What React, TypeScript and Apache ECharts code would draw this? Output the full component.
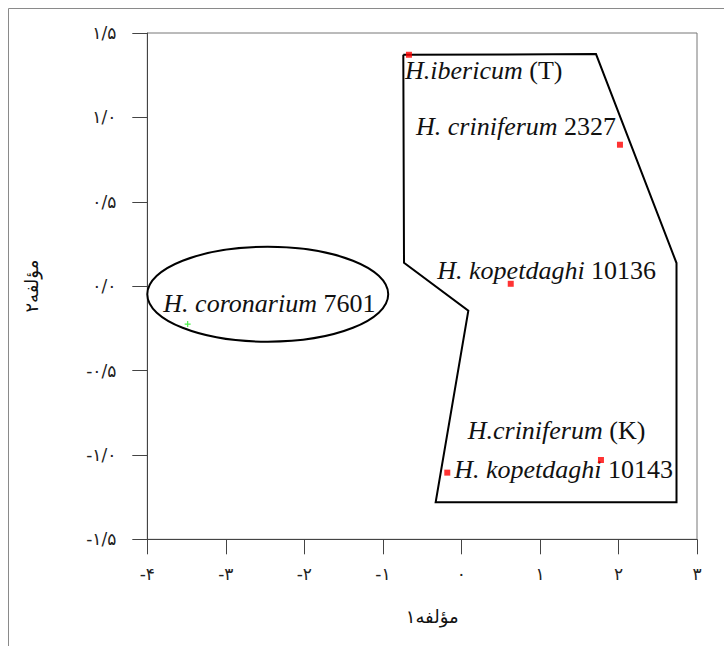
import React, { useEffect, useRef } from "react";
import * as echarts from "echarts";

const xTickValues = [-4, -3, -2, -1, 0, 1, 2, 3];
const xTickLabels = ["-۴", "-۳", "-۲", "-۱", "۰", "۱", "۲", "۳"];
const yTickValues = [-1.5, -1, -0.5, 0, 0.5, 1, 1.5];
const yTickLabels = ["-۱/۵", "-۱/۰", "-۰/۵", "۰/۰", "۰/۵", "۱/۰", "۱/۵"];

const xAxisName = "مؤلفه۱";
const yAxisName = "مؤلفه۲";

// red sample points (component 1, component 2)
const redX = [-0.668, 2.019, 0.628, -0.18, 1.777];
const redY = [1.371, 0.838, 0.014, -1.105, -1.03];
// green sample point
const greenX = [-3.486];
const greenY = [-0.225];

// grouping polygon vertices
const polyX = [-0.74, 1.714, 2.739, 2.739, -0.328, 0.088, -0.731];
const polyY = [1.371, 1.375, 0.137, -1.281, -1.281, -0.146, 0.139];

// grouping ellipse: centre x, centre y, radius x, radius y
const ellipseSpec = [-2.466, -0.048, 1.534, 0.281];

// sample labels
const labelNames = ["H.ibericum", "H. criniferum", "H. kopetdaghi", "H. coronarium", "H.criniferum", "H. kopetdaghi"];
const labelSuffix = ["(T)", "2327", "10136", "7601", "(K)", "10143"];
const labelX = [-0.718, -0.578, -0.307, -3.796, 0.08, -0.091];
const labelY = [1.277, 0.948, 0.092, -0.1, -0.855, -1.086];

export default function App() {
  const ref = useRef<HTMLDivElement>(null);
  useEffect(() => {
    if (!ref.current) return;
    const chart = echarts.init(ref.current, undefined, { renderer: "svg" });
    const polyData = polyX.map((x, i) => [x, polyY[i]]);
    polyData.push([polyX[0], polyY[0]]);
    const serif = "'Liberation Serif', 'Times New Roman', serif";
    const arabic = "'DejaVu Sans', sans-serif";
    chart.setOption({
      animation: false,
      backgroundColor: "#fff",
      graphic: [
        {
          type: "rect",
          shape: { x: 8.5, y: 8.5, width: 900, height: 900 },
          style: { fill: "none", stroke: "#8a8a8a", lineWidth: 1 },
          silent: true,
        },
      ],
      grid: {
        left: 147.3,
        top: 33,
        right: 27,
        bottom: 106.7,
        show: true,
        borderColor: "#777",
        borderWidth: 1,
        backgroundColor: "transparent",
      },
      xAxis: {
        type: "value",
        min: -4,
        max: 3,
        interval: 1,
        name: xAxisName,
        nameLocation: "middle",
        nameGap: 68,
        nameTextStyle: { fontFamily: arabic, fontSize: 18, color: "#111", padding: [0, 0, 0, 20] },
        axisLine: { show: true, onZero: false, lineStyle: { color: "#444", width: 1 } },
        axisTick: { show: true, inside: false, length: 15, lineStyle: { color: "#444" } },
        axisLabel: {
          margin: 26,
          fontFamily: arabic,
          fontSize: 17,
          color: "#222",
          formatter: (v: number) => {
            const i = xTickValues.findIndex((t) => Math.abs(t - v) < 1e-6);
            return i >= 0 ? xTickLabels[i] : "";
          },
        },
        splitLine: { show: false },
      },
      yAxis: {
        type: "value",
        min: -1.5,
        max: 1.5,
        interval: 0.5,
        name: yAxisName,
        nameLocation: "middle",
        nameGap: 107,
        nameRotate: 90,
        nameTextStyle: { fontFamily: arabic, fontSize: 18, color: "#111" },
        axisLine: { show: true, onZero: false, lineStyle: { color: "#444", width: 1 } },
        axisTick: { show: true, inside: false, length: 15, lineStyle: { color: "#444" } },
        axisLabel: {
          margin: 31,
          fontFamily: arabic,
          fontSize: 17,
          color: "#222",
          formatter: (v: number) => {
            const i = yTickValues.findIndex((t) => Math.abs(t - v) < 1e-6);
            return i >= 0 ? yTickLabels[i] : "";
          },
        },
        splitLine: { show: false },
      },
      series: [
        {
          type: "line",
          data: polyData,
          symbol: "none",
          lineStyle: { color: "#000", width: 2, join: "miter" },
          z: 2,
          silent: true,
        },
        {
          type: "custom",
          coordinateSystem: "cartesian2d",
          data: [ellipseSpec],
          z: 2,
          silent: true,
          renderItem: (params: any, api: any) => {
            const c = api.coord([api.value(0), api.value(1)]);
            const s = api.size([api.value(2), api.value(3)]);
            return {
              type: "ellipse",
              shape: { cx: c[0], cy: c[1], rx: s[0], ry: s[1] },
              style: { fill: "none", stroke: "#000", lineWidth: 2 },
            };
          },
        },
        {
          type: "custom",
          coordinateSystem: "cartesian2d",
          data: labelX.map((x, i) => [x, labelY[i], i]),
          z: 3,
          silent: true,
          clip: false,
          renderItem: (params: any, api: any) => {
            const c = api.coord([api.value(0), api.value(1)]);
            const i = api.value(2);
            return {
              type: "text",
              x: c[0],
              y: c[1],
              style: {
                text: `{i|${labelNames[i]}}{r| ${labelSuffix[i]}}`,
                align: "left",
                verticalAlign: "middle",
                fill: "#111",
                rich: {
                  i: { fontFamily: serif, fontSize: 26, fontStyle: "italic", fill: "#111" },
                  r: { fontFamily: serif, fontSize: 26, fill: "#111" },
                },
              },
            };
          },
        },
        {
          type: "scatter",
          data: redX.map((x, i) => [x, redY[i]]),
          symbol: "rect",
          symbolSize: 6,
          itemStyle: { color: "#ff0000" },
          z: 5,
          silent: true,
        },
        {
          type: "scatter",
          data: greenX.map((x, i) => [x, greenY[i]]),
          symbol: "path://M2,0H3V5H2ZM0,2H5V3H0Z",
          symbolSize: 6,
          itemStyle: { color: "#22ee22" },
          z: 5,
          silent: true,
        },
      ],
    });
    return () => chart.dispose();
  }, []);
  return (
    <div
      ref={ref}
      style={{ position: "fixed", left: 0, top: 0, width: 724, height: 646, background: "#fff" }}
    />
  );
}
